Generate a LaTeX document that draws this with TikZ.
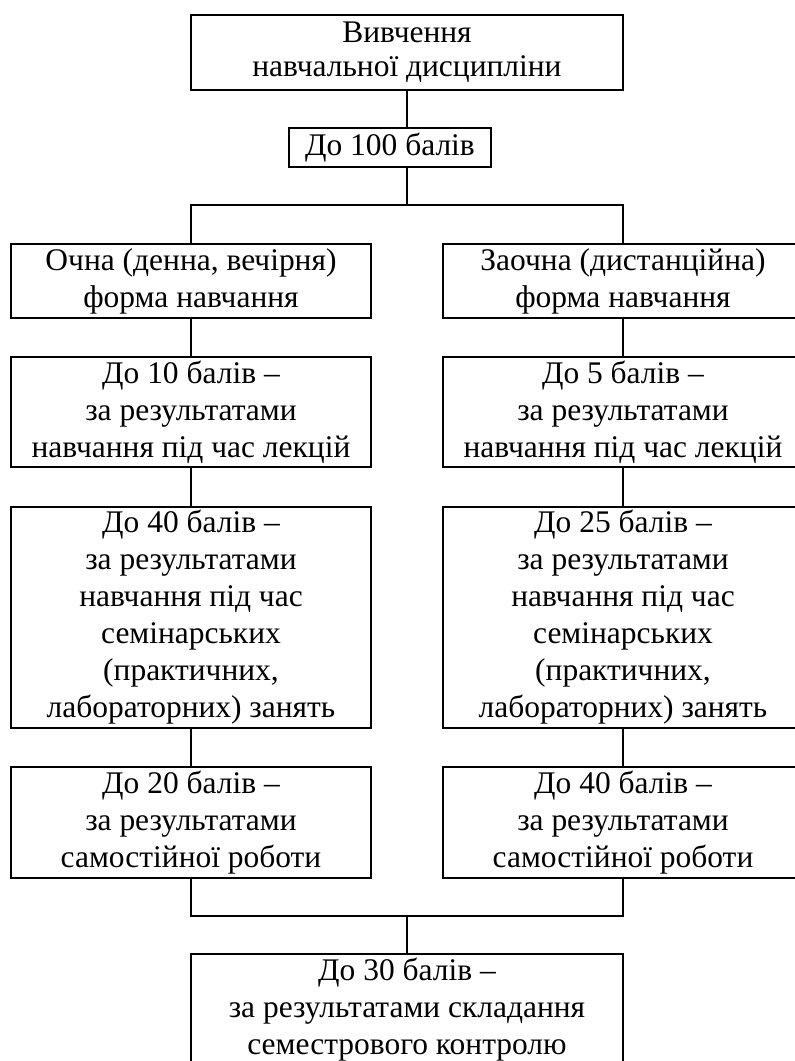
\documentclass[tikz,border=0pt]{standalone}
\usepackage{fontspec}
\setmainfont{Liberation Serif}
\begin{document}
\begin{tikzpicture}[x=0.75pt,y=-0.75pt,
  box/.style={draw,line width=1.2pt,inner sep=0pt,align=center,
    font=\fontsize{23.6pt}{27.75pt}\selectfont},
  link/.style={line width=1.2pt}]
\clip (0,0) rectangle (795,1061);
\node[box,minimum width=324pt,minimum height=56.25pt] (top) at (407,52.5) {\raisebox{-2pt}{Вивчення}\\навчальної дисципліни};
\node[box,minimum width=151.5pt,minimum height=29.25pt] (b100) at (390,147.5) {До 100 балів};
\node[box,minimum width=270pt,minimum height=55.5pt] (lf) at (191,281) {Очна (денна, вечірня)\\форма навчання};
\node[box,minimum width=270pt,minimum height=55.5pt] (rf) at (623,281) {Заочна (дистанційна)\\форма навчання};
\node[box,minimum width=270pt,minimum height=82.5pt] (l1) at (191,412) {До 10 балів –\\за результатами\\навчання під час лекцій};
\node[box,minimum width=270pt,minimum height=82.5pt] (r1) at (623,412) {До 5 балів –\\за результатами\\навчання під час лекцій};
\node[box,minimum width=270pt,minimum height=165.75pt] (l2) at (191,617.5) {До 40 балів –\\за результатами\\навчання під час\\семінарських\\(практичних,\\лабораторних) занять};
\node[box,minimum width=270pt,minimum height=165.75pt] (r2) at (623,617.5) {До 25 балів –\\за результатами\\навчання під час\\семінарських\\(практичних,\\лабораторних) занять};
\node[box,minimum width=270pt,minimum height=83.25pt] (l3) at (191,822.5) {До 20 балів –\\за результатами\\самостійної роботи};
\node[box,minimum width=270pt,minimum height=83.25pt] (r3) at (623,822.5) {До 40 балів –\\за результатами\\самостійної роботи};
\node[box,minimum width=324pt,minimum height=84pt] (bot) at (407,1010) {До 30 балів –\\за результатами складання\\семестрового контролю};
\coordinate (split) at (407,205);
\coordinate (join) at (407,916);
\draw[link] (top.south) -- (top.south |- b100.north);
\draw[link] (top.south |- b100.south) -- (split);
\draw[link] (lf.north) -- (lf.north |- split) -- (rf.north |- split) -- (rf.north);
\draw[link] (lf) -- (l1); \draw[link] (l1) -- (l2); \draw[link] (l2) -- (l3);
\draw[link] (rf) -- (r1); \draw[link] (r1) -- (r2); \draw[link] (r2) -- (r3);
\draw[link] (l3.south) -- (l3.south |- join) -- (r3.south |- join) -- (r3.south);
\draw[link] (join) -- (bot.north);
\end{tikzpicture}
\end{document}
